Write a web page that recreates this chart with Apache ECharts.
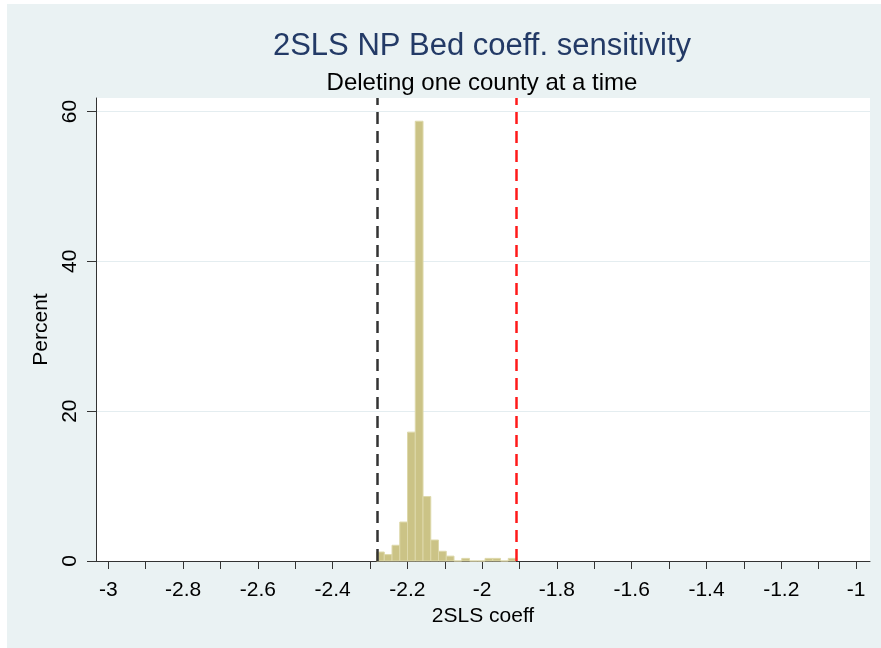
<!DOCTYPE html>
<html>
<head>
<meta charset="utf-8">
<script src="https://cdn.jsdelivr.net/npm/echarts@6/dist/echarts.min.js"></script>
<style>
  html, body { margin: 0; padding: 0; background: #ffffff; width: 881px; height: 648px; overflow: hidden; }
  #chart { position: absolute; left: 7px; top: 4px; width: 874px; height: 644px; }
</style>
</head>
<body>
<div id="chart"></div>
<script>
// ---- data ----
const titleText = '2SLS NP Bed coeff. sensitivity';
const subtitleText = 'Deleting one county at a time';
const xAxisName = '2SLS coeff';
const yAxisName = 'Percent';
const binStart = -2.2826;          // left edge of first bin
const binWidth = 0.02073;          // histogram bin width
const percents = [1.2, 0.85, 2.1, 5.2, 17.2, 58.7, 8.6, 2.8, 1.3, 0.65, 0, 0.35, 0, 0, 0.35, 0.35, 0, 0.35];
const refLineBlack = -2.2826;
const refLineRed = -1.9094;
const xTickValues = [-3, -2.9, -2.8, -2.7, -2.6, -2.5, -2.4, -2.3, -2.2, -2.1, -2, -1.9, -1.8, -1.7, -1.6, -1.5, -1.4, -1.3, -1.2, -1.1, -1];
const xLabelValues = [-3, -2.8, -2.6, -2.4, -2.2, -2, -1.8, -1.6, -1.4, -1.2, -1];
const yLabelValues = [0, 20, 40, 60];
const xMin = -3.033, xMax = -0.9626;
const yMin = 0, yMax = 61.8;

const histData = percents.map((p, i) => [binStart + i * binWidth, binStart + (i + 1) * binWidth, p]);

const FONT = '"Liberation Sans", Arial, Helvetica, sans-serif';

function textWidth(txt, size) {
  const c = document.createElement('canvas').getContext('2d');
  c.font = size + 'px ' + FONT;
  return c.measureText(txt).width;
}
const centerX = 475;

const chart = echarts.init(document.getElementById('chart'), null, { renderer: 'canvas' });
chart.setOption({
  backgroundColor: '#eaf2f3',
  animation: false,
  title: [
    {
      text: titleText, padding: 0,
      left: centerX - textWidth(titleText, 31) / 2, top: 27,
      textStyle: { fontFamily: FONT, fontSize: 31, fontWeight: 'normal', color: '#233a66' }
    },
    {
      text: subtitleText, padding: 0,
      left: centerX - textWidth(subtitleText, 24) / 2, top: 67,
      textStyle: { fontFamily: FONT, fontSize: 24, fontWeight: 'normal', color: '#000000' }
    }
  ],
  grid: { left: 89, right: 11, top: 94, bottom: 87, show: true, backgroundColor: '#ffffff', borderWidth: 0 },
  xAxis: {
    type: 'value', min: xMin, max: xMax,
    name: xAxisName, nameLocation: 'middle', nameGap: 30,
    nameTextStyle: { fontFamily: FONT, fontSize: 21, color: '#000' },
    axisLine: { show: true, onZero: false, lineStyle: { color: '#333', width: 1 } },
    axisTick: { show: true, length: 8, customValues: xTickValues, lineStyle: { color: '#333' } },
    axisLabel: { customValues: xLabelValues, margin: 19, fontFamily: FONT, fontSize: 21, color: '#000',
      formatter: v => String(Math.round(v * 10) / 10) },
    splitLine: { show: false }
  },
  yAxis: {
    type: 'value', min: yMin, max: yMax,
    name: yAxisName, nameLocation: 'middle', nameGap: 36,
    nameTextStyle: { fontFamily: FONT, fontSize: 21, color: '#000' },
    axisLine: { show: true, lineStyle: { color: '#333', width: 1 } },
    axisTick: { show: true, length: 9, customValues: yLabelValues, lineStyle: { color: '#333' } },
    axisLabel: { customValues: yLabelValues, rotate: 90, margin: 15, fontFamily: FONT, fontSize: 21, color: '#000' },
    splitLine: { show: true, lineStyle: { color: '#e4edf0', width: 1 } }
  },
  series: [
    {
      type: 'custom',
      data: histData,
      renderItem: function (params, api) {
        const p0 = api.coord([api.value(0), 0]);
        const p1 = api.coord([api.value(1), api.value(2)]);
        return {
          type: 'rect',
          shape: { x: p0[0], y: p1[1], width: p1[0] - p0[0], height: p0[1] - p1[1] },
          style: { fill: '#cbc386', stroke: '#ddd8aa', lineWidth: 1 }
        };
      },
      encode: { x: [0, 1], y: 2 },
      markLine: {
        silent: true, symbol: 'none', animation: false,
        label: { show: false },
        data: [
          { xAxis: refLineBlack, lineStyle: { color: '#333333', width: 2.5, type: [12, 7] } },
          { xAxis: refLineRed, lineStyle: { color: '#ff1a1a', width: 2.5, type: [12, 7] } }
        ]
      }
    }
  ]
});
</script>
</body>
</html>
